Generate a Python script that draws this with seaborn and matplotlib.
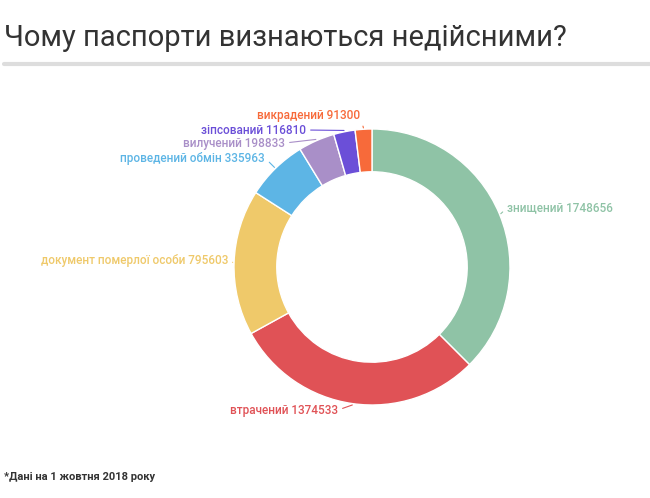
import matplotlib.pyplot as plt
import seaborn as sns
import numpy as np

categories = ['знищений', 'втрачений', 'документ померлої особи', 'проведений обмін',
              'вилучений', 'зіпсований', 'викрадений']
values = [1748656, 1374533, 795603, 335963, 198833, 116810, 91300]
colors = ['#8fc3a6', '#e05256', '#efc96a', '#5db5e5', '#a98fc8', '#6b4fd8', '#f76a3a']
# label text anchor in figure pixels (x, y from top), alignment
label_pos = [(507, 208, 'left'), (338, 410, 'right'), (228, 260, 'right'),
             (265, 158, 'right'), (285, 143, 'right'), (306, 130, 'right'),
             (360, 115, 'right')]

sns.set_theme(style='white', font='Roboto')
W, H = 650, 498
fig = plt.figure(figsize=(W / 100, H / 100), dpi=100)
cx, cy, r = 372, 267, 138
ax = fig.add_axes([(cx - r) / W, 1 - (cy + r) / H, 2 * r / W, 2 * r / H])
wedges, _ = ax.pie(values, colors=colors, startangle=90, counterclock=False,
                   wedgeprops=dict(width=0.31, edgecolor='white', linewidth=1))
ax.set_xlim(-1, 1)
ax.set_ylim(-1, 1)
ax.set_aspect('equal')

inv = ax.transData.inverted()
for w, name, v, c, (px, py, ha) in zip(wedges, categories, values, colors, label_pos):
    ang = np.deg2rad((w.theta1 + w.theta2) / 2)
    xy = (1.01 * np.cos(ang), 1.01 * np.sin(ang))
    txt = inv.transform((px, H - py))
    rel = (1, 0.5) if ha == 'right' else (0, 0.5)
    ax.annotate(f'{name} {v}', xy=xy, xytext=txt, ha=ha, va='center',
                color=c, fontsize=8.5, fontweight='medium', annotation_clip=False,
                arrowprops=dict(arrowstyle='-', color=c, lw=0.8, relpos=rel,
                                connectionstyle='arc3,rad=0', shrinkA=1, shrinkB=0))

fig.text(4 / W, 1 - 38 / H, 'Чому паспорти визнаються недійсними?', fontsize=21,
         color='#333333', va='center', ha='left')
fig.add_artist(plt.Line2D([4 / W, 650 / W], [1 - 64 / H, 1 - 64 / H], color='#dddddd', lw=3))
fig.text(4 / W, 1 - 477 / H, '*Дані на 1 жовтня 2018 року', fontsize=8,
         fontweight='bold', color='#333333', va='center')
fig.savefig('out.png', dpi=100)
